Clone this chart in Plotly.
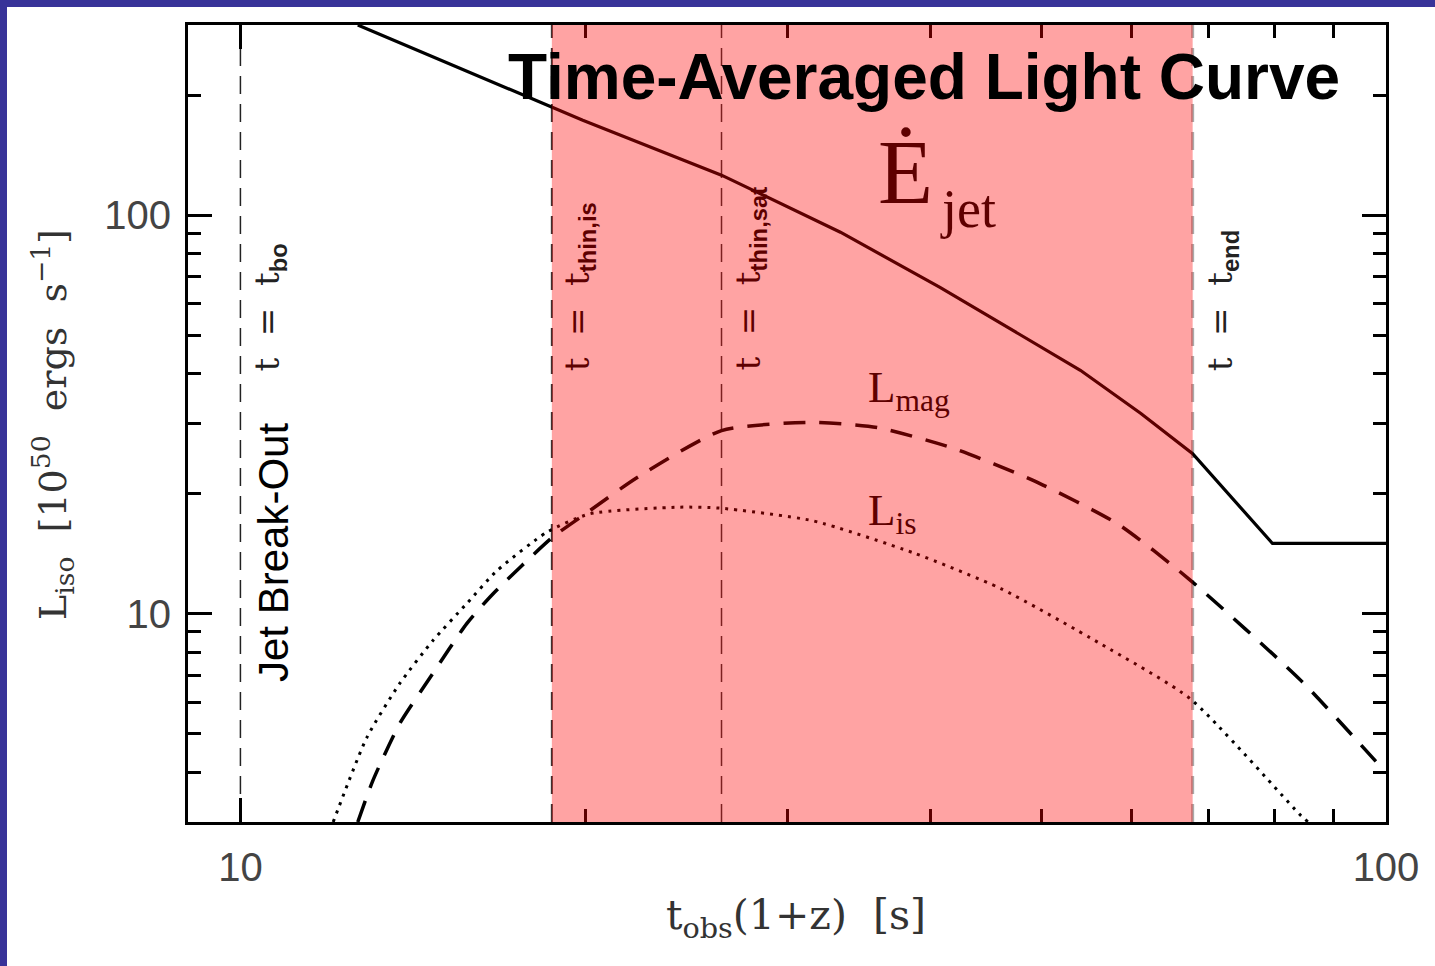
import numpy as np
import plotly.graph_objects as go

# ---------------- data ----------------
t_ejet = [12.66, 19.9, 26.3, 33.4, 40.8, 46.7, 54.1, 61.1, 67.8, 79.6, 100.0]
L_ejet = [300.0, 173.0, 126.0, 90.6, 65.9, 52.3, 40.8, 31.8, 25.2, 15.0, 15.0]

t_mag = [12.66, 13.05, 13.77, 14.72, 15.76, 16.61, 18.7, 20.06, 22.2, 26.3, 31.4, 35.97, 41.9, 49.2, 58.3, 67.1, 84.3, 100.0]
L_mag = [3.0, 3.81, 5.29, 7.07, 9.44, 11.2, 15.5, 17.9, 21.96, 28.8, 30.2, 29.3, 26.0, 21.6, 16.8, 12.3, 6.79, 3.99]

t_is = [12.05, 12.89, 13.77, 14.72, 15.76, 16.74, 18.51, 20.18, 24.19, 26.2, 31.6, 38.7, 46.1, 56.3, 67.5, 84.3, 85.5]
L_is = [3.0, 4.88, 6.67, 8.55, 10.6, 12.8, 16.0, 17.8, 18.5, 18.4, 17.1, 14.2, 11.56, 8.41, 6.11, 3.11, 3.0]

t_bo = 10.0
t_thin_is = 18.7
t_thin_sat = 26.3
t_end = 67.8

x_range = [9.0, 100.0]
y_range = [3.0, 300.0]

# ---------------- layout constants ----------------
W, H = 1435, 966
ML, MR, MT, MB = 188, 49, 25, 144
PW = W - ML - MR
PH = H - MT - MB
BORDER = 7
BLUE = "#383399"
DARKRED = "#5e0000"


def px_x(p):
    return (p - ML) / PW


def px_y(p):
    return (H - MB - p) / PH


fig = go.Figure()

# vertical marker lines (as traces)
for tv, col, wd in [(t_bo, "#222222", 1.5),
                    (t_thin_is, "#333333", 2),
                    (t_thin_sat, "#333333", 1.5),
                    (t_end, "#aaaaaa", 3)]:
    fig.add_trace(go.Scatter(x=[tv, tv], y=y_range, mode="lines",
                             line=dict(color=col, width=wd, dash="18px,10px"),
                             showlegend=False, hoverinfo="skip"))

fig.add_trace(go.Scatter(x=t_is, y=L_is, mode="lines",
                         line=dict(color="black", width=3, dash="3px,6px", shape="spline", smoothing=0.6),
                         showlegend=False))
fig.add_trace(go.Scatter(x=t_mag, y=L_mag, mode="lines",
                         line=dict(color="black", width=3.5, dash="22px,14px", shape="spline", smoothing=0.6),
                         showlegend=False))
fig.add_trace(go.Scatter(x=t_ejet, y=L_ejet, mode="lines",
                         line=dict(color="black", width=3.2),
                         showlegend=False))

# shaded time-averaging window, above the traces (tints them dark red)
fig.add_shape(type="rect", xref="x", yref="paper", x0=t_thin_is, x1=t_end, y0=0, y1=1,
              fillcolor="rgba(255,0,0,0.36)", line=dict(width=0), layer="above")

# blue frame of the slide
fig.add_shape(type="rect", xref="paper", yref="paper",
              x0=px_x(0), x1=px_x(BORDER), y0=px_y(H), y1=px_y(0),
              fillcolor=BLUE, line=dict(width=0), layer="above")
fig.add_shape(type="rect", xref="paper", yref="paper",
              x0=px_x(0), x1=px_x(W), y0=px_y(BORDER), y1=px_y(0),
              fillcolor=BLUE, line=dict(width=0), layer="above")

ann = []
serif = "Liberation Serif"
sans = "Liberation Sans"


def A(**kw):
    kw.setdefault("xanchor", "center")
    kw.setdefault("yanchor", "middle")
    kw.setdefault("showarrow", False)
    ann.append(kw)


SUB = "<sub><span style='font-family:Liberation Sans;font-weight:bold'>{}</span></sub>"

# vertical time labels
for tv, sub, col, shift in [(t_bo, "bo", "#222222", 29),
                            (t_thin_is, "thin,is", DARKRED, 28),
                            (t_thin_sat, "thin,sat", DARKRED, 28),
                            (t_end, "end", "#222222", 30)]:
    A(x=np.log10(tv), xref="x", y=px_y(373), yref="paper",
      text="t  =  t" + SUB.format(sub), textangle=-90, yanchor="bottom", xshift=shift,
      font=dict(family="DejaVu Serif", size=34, color=col))

A(x=px_x(273), y=px_y(553), xref="paper", yref="paper",
  text="Jet Break-Out", textangle=-90,
  font=dict(family=sans, size=42, color="black"))

A(x=px_x(924), y=px_y(77), xref="paper", yref="paper",
  text="<b>Time-Averaged Light Curve</b>",
  font=dict(family=sans, size=64, color="black"))

A(x=px_x(905), y=px_y(172), xref="paper", yref="paper",
  text="Ė", font=dict(family=serif, size=90, color=DARKRED))
A(x=px_x(968), y=px_y(209), xref="paper", yref="paper",
  text="jet", font=dict(family=serif, size=54, color=DARKRED))

A(x=px_x(866), y=px_y(390), xref="paper", yref="paper", xanchor="left",
  text="L<sub>mag</sub>", font=dict(family=serif, size=45, color=DARKRED))
A(x=px_x(866), y=px_y(513), xref="paper", yref="paper", xanchor="left",
  text="L<sub>is</sub>", font=dict(family=serif, size=45, color=DARKRED))

# axis titles
A(x=px_x(52), y=px_y(425), xref="paper", yref="paper", textangle=-90,
  text="L<sub>iso</sub>  [10<sup>50</sup>  ergs  s<sup>−1</sup>]",
  font=dict(family="DejaVu Serif", size=38, color="#333333"))
A(x=px_x(796), y=px_y(918), xref="paper", yref="paper",
  text="t<sub>obs</sub>(1+z)  [s]",
  font=dict(family="DejaVu Serif", size=41, color="#333333"))

axis_common = dict(type="log", showgrid=False, zeroline=False,
                   showline=True, linecolor="black", linewidth=3, mirror="allticks",
                   ticks="inside", ticklen=24, tickwidth=3, tickcolor="black",
                   dtick=1, tick0=0,
                   tickfont=dict(family=sans, size=40, color="#444444"),
                   minor=dict(ticks="inside", ticklen=13, tickwidth=2.5, tickcolor="black",
                              dtick="D1", showgrid=False))

fig.update_xaxes(range=[np.log10(x_range[0]), np.log10(x_range[1])], ticklabelstandoff=8, **axis_common)
fig.update_yaxes(range=[np.log10(y_range[0]), np.log10(y_range[1])], ticklabelstandoff=6, **axis_common)

fig.update_layout(width=W, height=H, autosize=False,
                  margin=dict(l=ML, r=MR, t=MT, b=MB),
                  paper_bgcolor="white", plot_bgcolor="white",
                  annotations=ann, showlegend=False)

fig.write_html("out.html", config={"displayModeBar": False},
               post_script="document.body.style.margin='0px';document.body.style.padding='0px';")
